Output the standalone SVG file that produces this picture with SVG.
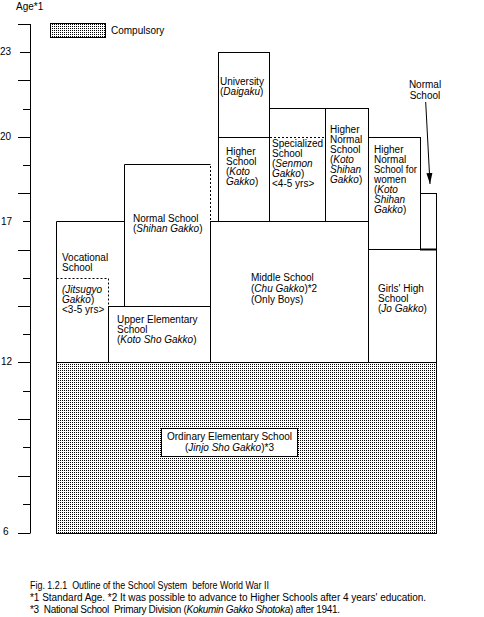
<svg xmlns="http://www.w3.org/2000/svg" width="484" height="617" viewBox="0 0 484 617">
<style>
text{font-family:"Liberation Sans",Arial,sans-serif;font-size:10px;fill:#000}
.it{font-style:italic}
.b{fill:none;stroke:#000;stroke-width:1}
.w{fill:#fff;stroke:#000;stroke-width:1}
.d{fill:none;stroke:#000;stroke-width:1;stroke-dasharray:2,2}
.ax{stroke:#000;stroke-width:1;fill:none}
</style>
<defs>
<pattern id="dots" patternUnits="userSpaceOnUse" x="0" y="0" width="2" height="2">
<rect x="0" y="0" width="2" height="2" fill="#fff"/>
<rect x="0" y="0" width="1" height="1" fill="#000"/>
</pattern>
<marker id="ah" markerWidth="12" markerHeight="8" refX="11" refY="3" orient="auto" markerUnits="userSpaceOnUse" viewBox="0 0 12 6">
<path d="M0,0 L11,3 L0,6 Z" fill="#000"/>
</marker>
</defs>
<rect width="484" height="617" fill="#fff"/>

<g id="axis">
<path class="ax" d="M30.5,24 V533.5"/>
<path class="ax" d="M18,24.5H30 M20,52.5H30 M18,80.5H30 M23,109.5H30 M18,137.5H30 M23,165.5H30 M18,193.5H30 M23,221.5H30 M18,250.5H30 M23,278.5H30 M18,306.5H30 M23,334.5H30 M18,362.5H30 M23,391.5H30 M18,419.5H30 M23,447.5H30 M18,476.5H30 M23,504.5H30 M18,533.5H30"/>
<text x="16" y="10">Age*1</text>
<text x="0" y="55">23</text>
<text x="0" y="140">20</text>
<text x="1" y="225">17</text>
<text x="1" y="365">12</text>
<text x="3" y="535">6</text>
</g>

<g id="legend">
<rect x="50.5" y="23.5" width="55" height="14" fill="url(#dots)" stroke="#000"/>
<text x="111" y="34">Compulsory</text>
</g>

<g id="ordinary">
<rect x="56.5" y="362.5" width="380" height="171" fill="url(#dots)" stroke="#000"/>
<rect class="w" x="161.5" y="428.5" width="136" height="28"/>
<text x="229.5" y="440" text-anchor="middle">Ordinary Elementary School</text>
<text x="229.5" y="451" text-anchor="middle">(<tspan class="it">Jinjo Sho Gakko</tspan>)*3</text>
</g>

<g id="vocational">
<path class="b" d="M56.5,362.5 V221.5 H124.5"/>
<path class="d" d="M56.5,278.5 H108.5 V306"/>
<text x="62" y="261">Vocational</text>
<text x="62" y="271">School</text>
<text x="62" y="293"><tspan class="it">(Jitsugyo</tspan></text>
<text x="62" y="303"><tspan class="it">Gakko</tspan>)</text>
<text x="62" y="313">&lt;3-5 yrs&gt;</text>
</g>

<g id="normal-school">
<path class="b" d="M124.5,306.5 V164.5 H210.5"/>
<path class="d" d="M210.5,166 V221"/>
<text x="133" y="222">Normal School</text>
<text x="133" y="232">(<tspan class="it">Shihan Gakko</tspan>)</text>
</g>

<g id="upper-elementary">
<rect class="b" x="108.5" y="306.5" width="102" height="56"/>
<text x="117" y="323">Upper Elementary</text>
<text x="117" y="333">School</text>
<text x="117" y="343">(<tspan class="it">Koto Sho Gakko</tspan>)</text>
</g>

<g id="middle-school">
<rect class="b" x="210.5" y="221.5" width="158" height="141"/>
<text x="251" y="281">Middle School</text>
<text x="251" y="292">(<tspan class="it">Chu Gakko</tspan>)*2</text>
<text x="251" y="303">(Only Boys)</text>
</g>

<g id="university">
<rect class="b" x="218.5" y="52.5" width="51" height="85"/>
<text x="220" y="85">University</text>
<text x="220" y="95">(<tspan class="it">Daigaku</tspan>)</text>
</g>

<g id="higher-school">
<rect class="b" x="218.5" y="137.5" width="51" height="84"/>
<text x="226" y="155">Higher</text>
<text x="226" y="165">School</text>
<text x="226" y="175">(<tspan class="it">Koto</tspan></text>
<text x="226" y="185"><tspan class="it">Gakko</tspan>)</text>
</g>

<g id="specialized">
<path class="b" d="M269.5,221.5 V108.5 H325.5 V221.5"/>
<path class="d" d="M270,137.5 H325"/>
<text x="272" y="147">Specialized</text>
<text x="272" y="157">School</text>
<text x="272" y="167">(<tspan class="it">Senmon</tspan></text>
<text x="272" y="177"><tspan class="it">Gakko</tspan>)</text>
<text x="272" y="187">&lt;4-5 yrs&gt;</text>
</g>

<g id="higher-normal">
<rect class="b" x="325.5" y="108.5" width="43" height="113"/>
<text x="330" y="133">Higher</text>
<text x="330" y="143">Normal</text>
<text x="330" y="153">School</text>
<text x="330" y="163">(<tspan class="it">Koto</tspan></text>
<text x="330" y="173"><tspan class="it">Shihan</tspan></text>
<text x="330" y="183"><tspan class="it">Gakko</tspan>)</text>
</g>

<g id="higher-normal-women">
<rect class="b" x="368.5" y="137.5" width="52" height="112"/>
<text x="374" y="153">Higher</text>
<text x="374" y="163">Normal</text>
<text x="374" y="173" textLength="43" lengthAdjust="spacingAndGlyphs">School for</text>
<text x="374" y="183">women</text>
<text x="374" y="193">(<tspan class="it">Koto</tspan></text>
<text x="374" y="203"><tspan class="it">Shihan</tspan></text>
<text x="374" y="213"><tspan class="it">Gakko</tspan>)</text>
</g>

<g id="normal-school-small">
<rect class="b" x="420.5" y="193.5" width="16" height="56"/>
<path d="M420,249.5 H437" stroke="#000" stroke-width="2"/>
<text x="425" y="88" text-anchor="middle">Normal</text>
<text x="425" y="99" text-anchor="middle">School</text>
</g>

<g id="girls-high">
<rect class="b" x="368.5" y="249.5" width="68" height="113"/>
<text x="378" y="292">Girls' High</text>
<text x="378" y="302">School</text>
<text x="378" y="312">(<tspan class="it">Jo Gakko</tspan>)</text>
</g>

<g id="connectors">
<path d="M425.7,102 L430,184" stroke="#000" stroke-width="1" fill="none" marker-end="url(#ah)"/>
</g>

<g id="caption">
<text x="30" y="589" xml:space="preserve" textLength="239" lengthAdjust="spacingAndGlyphs">Fig. 1.2.1  Outline of the School System  before World War II</text>
<text x="30" y="601" textLength="396" lengthAdjust="spacing">*1 Standard Age. *2 It was possible to advance to Higher Schools after 4 years' education.</text>
<text x="30" y="613" xml:space="preserve" textLength="310" lengthAdjust="spacing">*3  National School  Primary Division (<tspan class="it">Kokumin Gakko Shotoka</tspan>) after 1941.</text>
</g>
</svg>
